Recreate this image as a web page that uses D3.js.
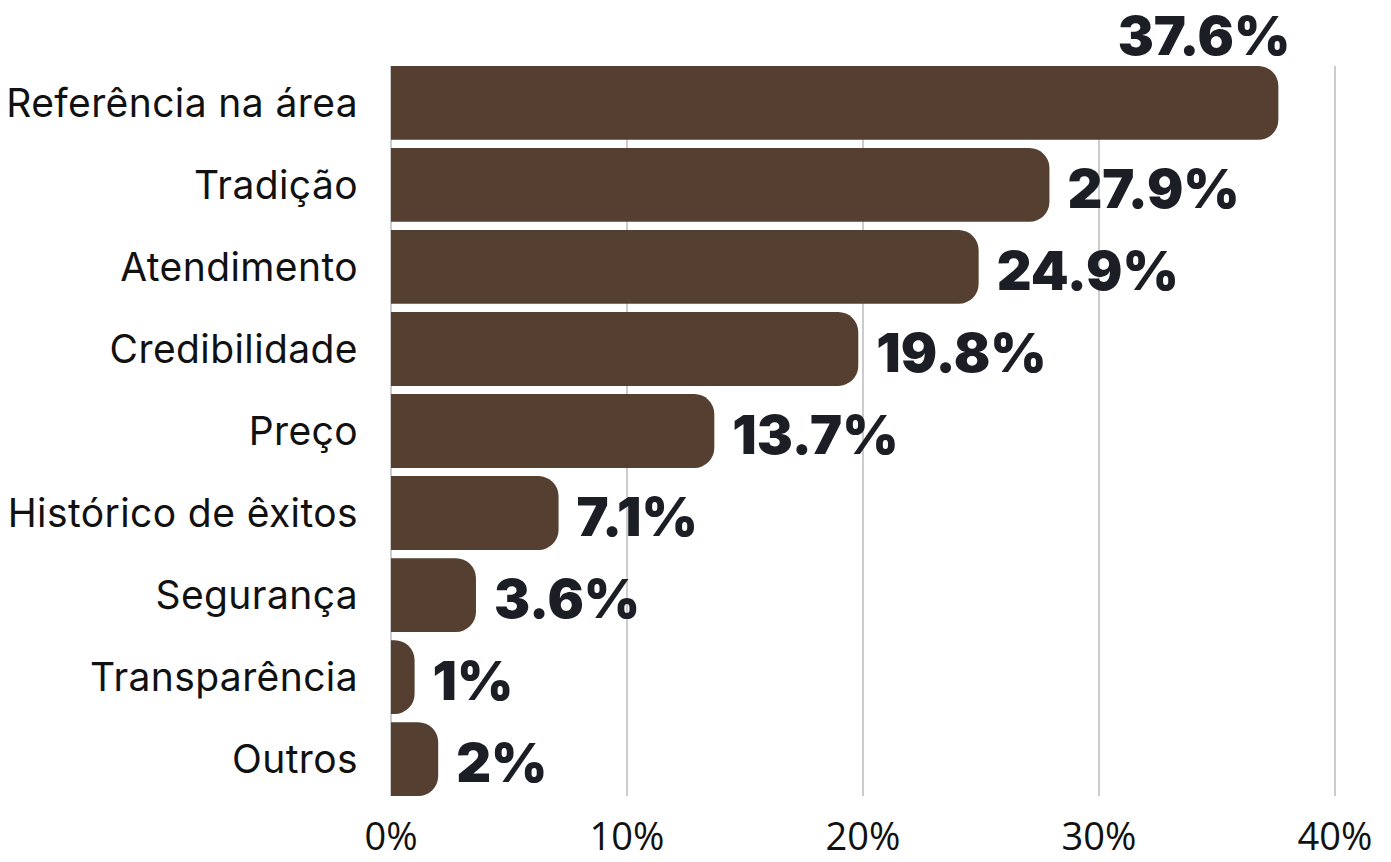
<!DOCTYPE html>
<html><head><meta charset="utf-8">
<script src="https://cdn.jsdelivr.net/npm/d3@7"></script>
<style>html,body{margin:0;padding:0;background:#fff;}svg{display:block;}</style>
</head><body>
<svg id="chart" width="1391" height="862"></svg>
<script>
const categories = ["Referência na área","Tradição","Atendimento","Credibilidade","Preço","Histórico de êxitos","Segurança","Transparência","Outros"];
const values = [37.6, 27.9, 24.9, 19.8, 13.7, 7.1, 3.6, 1, 2];
const valueLabels = ["37.6%","27.9%","24.9%","19.8%","13.7%","7.1%","3.6%","1%","2%"];
const tickValues = [0, 10, 20, 30, 40];
const tickLabels = ["0%","10%","20%","30%","40%"];

const svg = d3.select("#chart");
const x = d3.scaleLinear().domain([0, 40]).range([391, 1335]);
const y = d3.scaleBand().domain(categories).range([66, 796]).paddingInner(0.1).paddingOuter(0);

const barColor = "#553f31";
const labelColor = "#1c1e25";

// gridlines
svg.append("g").selectAll("line").data(tickValues).join("line")
  .attr("x1", d => x(d)).attr("x2", d => x(d))
  .attr("y1", 66).attr("y2", 796)
  .attr("stroke", "#cccccc").attr("stroke-width", 2);

// bars with right rounded corners
const r = 20;
function barPath(d, i) {
  const x0 = x(0), x1 = x(d), y0 = y(categories[i]), h = y.bandwidth();
  const rr = Math.min(r, (x1 - x0), h / 2);
  return `M${x0},${y0} H${x1 - rr} A${rr},${rr} 0 0 1 ${x1},${y0 + rr} V${y0 + h - rr} A${rr},${rr} 0 0 1 ${x1 - rr},${y0 + h} H${x0} Z`;
}
svg.append("g").selectAll("path").data(values).join("path")
  .attr("d", (d, i) => barPath(d, i))
  .attr("fill", barColor);

// category labels
svg.append("g").selectAll("text").data(categories).join("text")
  .attr("x", 358)
  .attr("y", d => y(d) + y.bandwidth() / 2)
  .attr("dy", "0.36em")
  .attr("text-anchor", "end")
  .attr("font-family", "Inter, Roboto, sans-serif")
  .attr("font-size", 39)
  .attr("letter-spacing", 0.4)
  .attr("fill", "#111")
  .text(d => d);

// value labels
svg.append("g").selectAll("text").data(values).join("text")
  .attr("x", (d, i) => i === 0 ? x(d) + 12 : x(d) + 18)
  .attr("y", (d, i) => i === 0 ? y(categories[i]) - 11 : y(categories[i]) + y.bandwidth() / 2 + 23)
  .attr("text-anchor", (d, i) => i === 0 ? "end" : "start")
  .attr("font-family", "Inter, 'DejaVu Sans', sans-serif")
  .attr("font-weight", 900)
  .attr("font-size", 54)
  .attr("fill", labelColor)
  .text((d, i) => valueLabels[i]);

// x axis tick labels
svg.append("g").selectAll("text").data(tickValues).join("text")
  .attr("x", d => x(d))
  .attr("y", 850)
  .attr("text-anchor", "middle")
  .attr("font-family", "'Open Sans', 'Noto Sans', sans-serif")
  .attr("font-size", 38)
  .attr("fill", "#111")
  .text((d, i) => tickLabels[i]);
</script>
</body></html>
